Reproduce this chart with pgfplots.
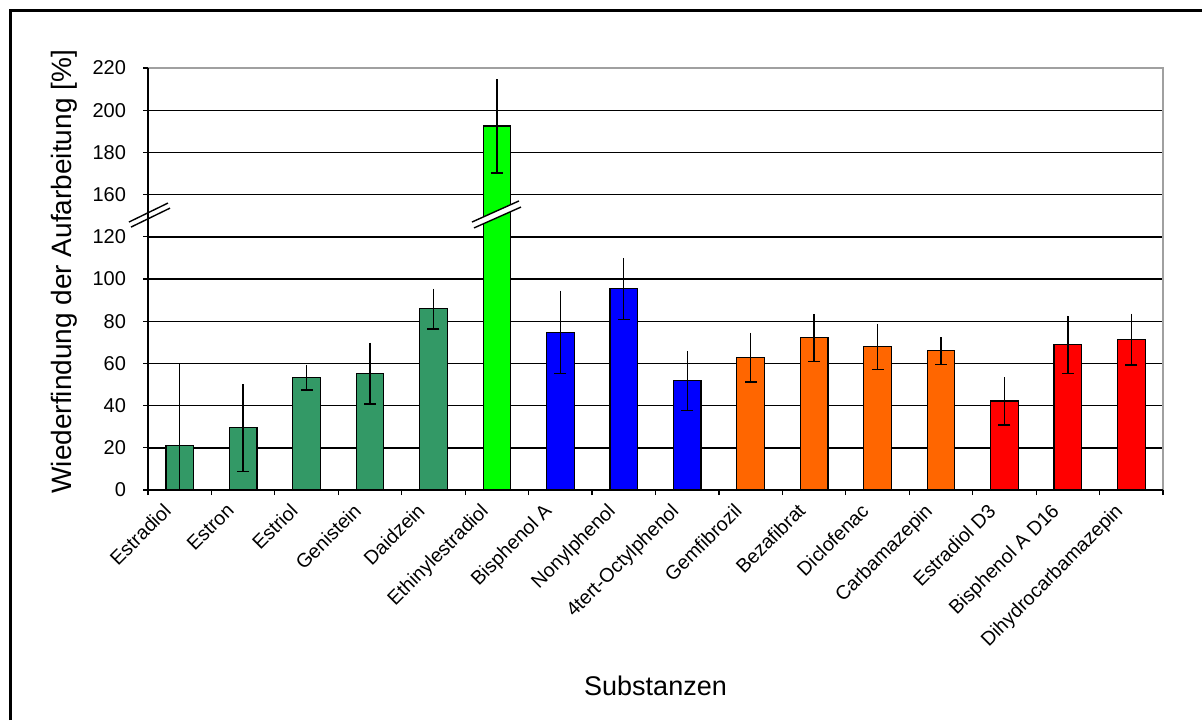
\documentclass[border=0pt]{standalone}
\usepackage{fontspec}
\setmainfont{Liberation Sans}
\usepackage{pgfplots}
\usepackage{pgfplotstable}
\pgfplotsset{compat=1.18}

\definecolor{seagreen}{RGB}{51,153,102}
\definecolor{limegreen}{RGB}{0,255,0}
\definecolor{pureblue}{RGB}{0,0,255}
\definecolor{xlorange}{RGB}{255,102,0}
\definecolor{purered}{RGB}{255,0,0}
\definecolor{frame}{RGB}{160,160,160}

% x = position, v = recovery [%], ep/em = upper/lower whisker (lower one cut at 0)
\pgfplotstableread{
x v ep em
0 21.0 39.0 21.0
1 29.5 20.7 20.7
2 53.4 6.0 6.0
3 55.3 14.6 14.6
4 85.9 9.6 9.6
}\estrogens
\pgfplotstableread{
x v ep em
5 192.5 22.3 22.3
}\ethinyl
\pgfplotstableread{
x v ep em
6 74.8 19.7 19.7
7 95.4 14.6 14.6
8 51.8 14.2 14.2
}\phenols
\pgfplotstableread{
x v ep em
9 62.9 11.7 11.7
10 72.2 11.3 11.3
11 67.9 10.8 10.8
12 66.0 6.5 6.5
}\pharma
\pgfplotstableread{
x v ep em
13 42.2 11.3 11.3
14 68.9 13.8 13.8
15 71.4 12.2 12.2
}\labelled

% the value axis jumps from 120 to 160: values above the break are drawn 20 lower
\newcommand{\brk}{\thisrow{v}>140 ? \thisrow{v}-20 : \thisrow{v}}

\pgfplotsset{
  barstyle/.style={ybar, bar width=13.8pt, draw=black, line width=0.6pt,
    error bars/y dir=both, error bars/y explicit, error bars/error mark=none,
    error bars/error bar style={draw=black, line width=0.7pt}},
  capstyle/.style={draw=none, mark=none, forget plot,
    error bars/y dir=minus, error bars/y explicit, error bars/error mark=-,
    error bars/error bar style={draw=black, line width=0.7pt},
    error bars/error mark options={draw=black, line width=0.7pt, mark size=3pt, rotate=90}},
  /pgfplots/table/tab/.style={x=x, y expr={\brk}, y error plus=ep, y error minus=em},
}

\begin{document}
\begin{tikzpicture}
\path[use as bounding box] (0,0) rectangle (601pt,360pt);
\draw[line width=1.5pt] (5pt,0) -- (5pt,355pt) -- (601pt,355pt);
\begin{axis}[
  at={(74pt,115pt)}, anchor=south west,
  scale only axis, width=507.5pt, height=211pt,
  xmin=-0.5, xmax=15.5, ymin=0, ymax=200,
  axis line style={draw=none},
  ytick={0,20,...,200},
  yticklabels={0,20,40,60,80,100,120,160,180,200,220},
  ytick pos=left, xtick pos=bottom,
  tick align=outside,
  major tick length=2.5pt,
  ymajorgrids, major grid style={black, line width=0.7pt},
  y tick style={black, line width=0.6pt},
  xtick={0,...,15},
  major x tick style={draw=none},
  minor xtick={-0.5,0.5,...,15.5},
  minor tick length=2.5pt,
  minor x tick style={black, line width=0.6pt},
  xticklabels={Estradiol, Estron, Estriol, Genistein, Daidzein, Ethinylestradiol,
    Bisphenol A, Nonylphenol, 4tert-Octylphenol, Gemfibrozil, Bezafibrat,
    Diclofenac, Carbamazepin, Estradiol D3, Bisphenol A D16, Dihydrocarbamazepin},
  xticklabel style={rotate=45, anchor=north east, font=\fontsize{9.8}{11}\selectfont,
    xshift=-5.3pt, yshift=7.2pt},
  yticklabel style={font=\fontsize{10}{12}\selectfont, xshift=-5pt},
  /pgf/number format/assume math mode=true,
  xlabel={Substanzen},
  xlabel style={at={(axis description cs:0.5,0)}, anchor=base, yshift=-102.5pt,
    font=\fontsize{13.5}{16}\selectfont},
  ylabel={Wiederfindung der Aufarbeitung  [\%]},
  ylabel style={at={(axis description cs:-0.0828,0.517)}, anchor=center, rotate=0,
    font=\fontsize{14}{16}\selectfont},
  clip=false,
  after end axis/.code={
    % plot frame: grey top and right, black axis lines left and bottom
    \draw[frame, line width=0.7pt] (rel axis cs:0,1) -- (rel axis cs:1,1) -- (rel axis cs:1,0);
    \draw[black, line width=0.7pt] (rel axis cs:0,1) -- (rel axis cs:0,0) -- (rel axis cs:1,0);
    % break marks on the value axis
    \draw[black, line width=0.7pt] (axis cs:-0.80,127.0) -- (axis cs:-0.185,136.0);
    \draw[black, line width=0.7pt] (axis cs:-0.768,124.6) -- (axis cs:-0.153,133.6);
    % break marks across the tall bar
    \fill[white] (axis cs:4.607,127.0) -- (axis cs:5.348,137.0) -- (axis cs:5.380,134.1) -- (axis cs:4.639,124.2) -- cycle;
    \draw[black, line width=0.7pt] (axis cs:4.607,127.0) -- (axis cs:5.348,137.0);
    \draw[black, line width=0.7pt] (axis cs:4.639,124.2) -- (axis cs:5.380,134.1);
  },
]
\addplot[barstyle, fill=seagreen] table[tab] {\estrogens};
\addplot[barstyle, fill=limegreen] table[tab] {\ethinyl};
\addplot[barstyle, fill=pureblue] table[tab] {\phenols};
\addplot[barstyle, fill=xlorange] table[tab] {\pharma};
\addplot[barstyle, fill=purered] table[tab] {\labelled};
% caps on the lower whiskers only
\addplot[capstyle] table[tab] {\estrogens};
\addplot[capstyle] table[tab] {\ethinyl};
\addplot[capstyle] table[tab] {\phenols};
\addplot[capstyle] table[tab] {\pharma};
\addplot[capstyle] table[tab] {\labelled};
\end{axis}
\end{tikzpicture}
\end{document}
